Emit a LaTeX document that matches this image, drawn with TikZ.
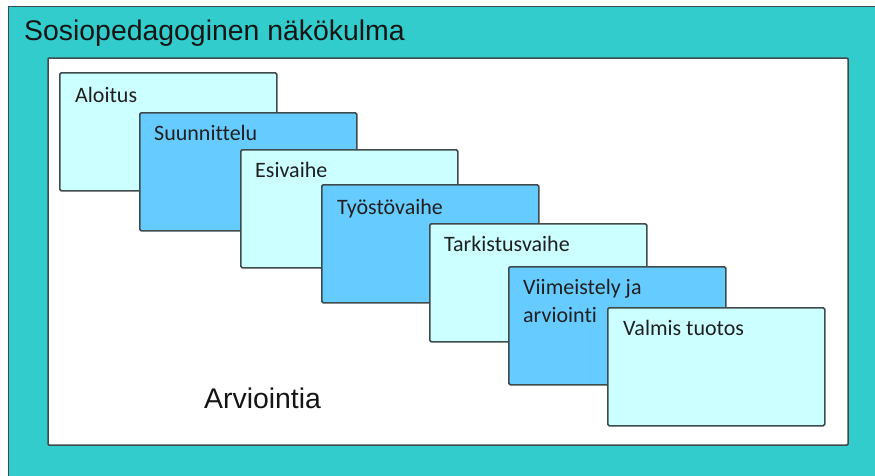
\documentclass[tikz,border=0pt]{standalone}
\usepackage{fontspec}
\setmainfont[Ligatures={NoCommon,TeX}]{Carlito}
\newfontfamily\arialf{Liberation Sans}
\definecolor{teal1}{HTML}{33CCCC}
\definecolor{pale}{HTML}{CCFFFF}
\definecolor{blue1}{HTML}{66CCFF}
\definecolor{edge}{HTML}{3F4A4A}
\begin{document}
\begin{tikzpicture}[x=1pt,y=-1pt,
  phase/.style={draw=edge, line width=1.5pt, rounded corners=1.5pt, anchor=north west,
    minimum width=217pt, minimum height=118pt, inner sep=0pt},
  lab/.style={anchor=base west, inner sep=0pt, font=\fontsize{22}{28}\selectfont, text=black!88, align=left},
  big/.style={anchor=base west, inner sep=0pt, font=\arialf\fontsize{28.4}{30}\selectfont, text=black!92}]
\useasboundingbox (0,0) rectangle (875,475);
\fill[white] (0,0) rectangle (875,475);
\draw[edge, fill=teal1, line width=1pt] (8,6) rectangle (885,485);
\node[big] (title) at (24,40) {Sosiopedagoginen näkökulma};
\draw[edge, fill=white, line width=1.5pt, rounded corners=1pt] (48,58) rectangle (848,445);
\node[big] (arv) at (204,408) {Arviointia};
\node[phase, fill=pale] (b1) at (59,72) {};
\node[lab] at ([shift={(16,30)}]b1.north west) {Aloitus};
\node[phase, fill=blue1] (b2) at (139,112) {};
\node[lab] at ([shift={(15,28)}]b2.north west) {Suunnittelu};
\node[phase, fill=pale] (b3) at (240,149) {};
\node[lab] at ([shift={(15,28)}]b3.north west) {Esivaihe};
\node[phase, fill=blue1] (b4) at (321,184) {};
\node[lab] at ([shift={(16,30)}]b4.north west) {Työstövaihe};
\node[phase, fill=pale] (b5) at (429,223) {};
\node[lab] at ([shift={(15,28)}]b5.north west) {Tarkistusvaihe};
\node[phase, fill=blue1] (b6) at (508,266) {};
\node[lab] at ([shift={(15,56)}]b6.north west) {Viimeistely ja\\arviointi};
\node[phase, fill=pale] (b7) at (607,307) {};
\node[lab] at ([shift={(16,28)}]b7.north west) {Valmis tuotos};
\end{tikzpicture}
\end{document}
